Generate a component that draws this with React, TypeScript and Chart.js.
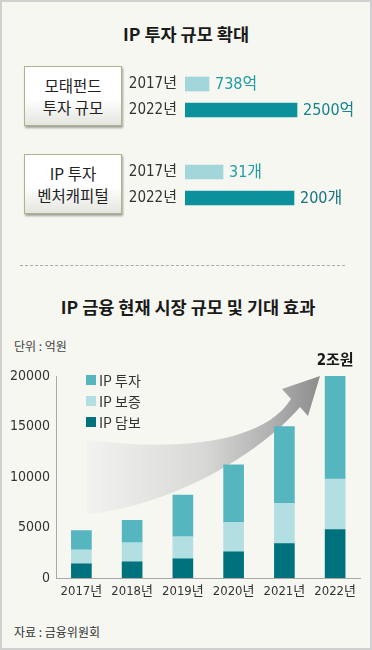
import React, { useEffect, useRef } from "react";
import { Chart, registerables } from "chart.js";
Chart.register(...registerables);

// ---- data ----
const topYears = ["2017년", "2022년"];
const fundValues = [738, 2500];
const fundUnit = "억";
const vcValues = [31, 200];
const vcUnit = "개";

const years = ["2017년", "2018년", "2019년", "2020년", "2021년", "2022년"];
const ipCollateral = [1400, 1600, 1900, 2600, 3400, 4800]; // IP 담보
const ipGuarantee = [1400, 1900, 2200, 2900, 4000, 5000]; // IP 보증
const ipInvest = [1900, 2200, 4100, 5700, 7600, 10200]; // IP 투자
const seriesNames = ["IP 담보", "IP 보증", "IP 투자"];
const yTicks = [0, 5000, 10000, 15000, 20000];
const peakLabel = "2조원";

// ---- style ----
const NARROW = "'Liberation Sans Narrow', 'DejaVu Sans Condensed', 'Liberation Sans', 'Noto Sans CJK KR', sans-serif";
const KR = "'Noto Sans CJK KR', 'Noto Sans', sans-serif";
const seriesColors = ["#00727d", "#b3dfe3", "#56b6bf"];
const topBarColors = ["#a2d6db", "#0a919c"];

function HBar(props: { values: number[]; unit: string; range: [number, number]; labelColors: string[]; top: number }) {
  const ref = useRef<HTMLCanvasElement>(null);
  useEffect(() => {
    if (!ref.current) return;
    const { values, unit, range, labelColors } = props;
    const chart = new Chart(ref.current, {
      type: "bar",
      data: {
        labels: topYears,
        datasets: [
          {
            data: values,
            backgroundColor: topBarColors,
            barThickness: 14,
            base: range[0],
          } as any,
        ],
      },
      options: {
        indexAxis: "y",
        animation: false,
        responsive: false,
        maintainAspectRatio: false,
        layout: { padding: { top: 12, bottom: 12, right: 15, left: 0 } },
        scales: {
          x: { display: false, min: range[0], max: range[1] },
          y: {
            grid: { display: false, drawTicks: true, tickLength: 8 },
            border: { display: false },
            ticks: { padding: 0, color: "#333", font: { family: NARROW, size: 15 } },
            afterFit: (s: any) => {
              s.width = 58;
            },
          },
        },
        plugins: { legend: { display: false }, tooltip: { enabled: false } },
      },
      plugins: [
        {
          id: "vals",
          afterDatasetsDraw(c: any) {
            const ctx = c.ctx;
            const meta = c.getDatasetMeta(0);
            meta.data.forEach((bar: any, i: number) => {
              ctx.save();
              ctx.font = `16px ${NARROW}`;
              ctx.fillStyle = labelColors[i];
              ctx.textBaseline = "middle";
              ctx.textAlign = "left";
              ctx.fillText(values[i] + unit, bar.x + 6, bar.y + 1);
              ctx.restore();
            });
          },
        },
      ],
    });
    return () => chart.destroy();
  }, []);
  return <canvas ref={ref} width={245} height={76} style={{ position: "absolute", left: 125, top: props.top }} />;
}

function StackChart() {
  const ref = useRef<HTMLCanvasElement>(null);
  useEffect(() => {
    if (!ref.current) return;
    const chart = new Chart(ref.current, {
      type: "bar",
      data: {
        labels: years,
        datasets: [
          { label: seriesNames[0], data: ipCollateral, backgroundColor: seriesColors[0] },
          { label: seriesNames[1], data: ipGuarantee, backgroundColor: seriesColors[1] },
          { label: seriesNames[2], data: ipInvest, backgroundColor: seriesColors[2] },
        ],
      },
      options: {
        animation: false,
        responsive: false,
        maintainAspectRatio: false,
        layout: { padding: { left: 0, right: 13.5, top: 44, bottom: 10 } },
        datasets: { bar: { barThickness: 20 } } as any,
        scales: {
          x: {
            stacked: true,
            grid: { display: false, drawTicks: false },
            border: { display: true, color: "#a8a8a8" },
            ticks: {
              padding: 6,
              color: "#333",
              font: { family: NARROW, size: 13 },
              maxRotation: 0,
              minRotation: 0,
              autoSkip: false,
            },
            afterFit: (s: any) => {
              s.height = 24;
            },
          },
          y: {
            stacked: true,
            min: 0,
            max: 20000,
            afterBuildTicks: (s: any) => {
              s.ticks = yTicks.map((v) => ({ value: v }));
            },
            grid: { display: false, drawTicks: false },
            border: { display: true, color: "#a8a8a8" },
            ticks: {
              padding: 6,
              color: "#333",
              font: { family: NARROW, size: 14 },
              callback: (v: any) => String(v),
            },
            afterFit: (s: any) => {
              s.width = 54;
            },
          },
        },
        plugins: { legend: { display: false }, tooltip: { enabled: false } },
      },
      plugins: [
        {
          id: "arrow",
          beforeDatasetsDraw(c: any) {
            const ctx = c.ctx;
            const a = c.chartArea;
            const X = (x: number) => a.left + (x - 54);
            const Y = (y: number) => a.top + (y - 374);
            ctx.save();
            const g = ctx.createLinearGradient(X(85), 0, X(318), 0);
            g.addColorStop(0, "#f2f2f0");
            g.addColorStop(0.5, "#d8d8d7");
            g.addColorStop(0.8, "#afafaf");
            g.addColorStop(1, "#8c8c8c");
            ctx.fillStyle = g;
            ctx.beginPath();
            ctx.moveTo(X(85), Y(438));
            ctx.bezierCurveTo(X(180), Y(450), X(262), Y(440), X(289), Y(397));
            ctx.lineTo(X(280), Y(387));
            ctx.lineTo(X(318), Y(374));
            ctx.lineTo(X(306), Y(414));
            ctx.lineTo(X(298), Y(405));
            ctx.bezierCurveTo(X(255), Y(455), X(165), Y(505), X(85), Y(512));
            ctx.closePath();
            ctx.fill();
            ctx.restore();
          },
          afterDatasetsDraw(c: any) {
            const ctx = c.ctx;
            const a = c.chartArea;
            ctx.save();
            const ds = c.data.datasets;
            for (let k = 0; k < ds.length; k++) {
              const d = ds[ds.length - 1 - k];
              const cy = a.top + 4 + k * 21;
              ctx.fillStyle = d.backgroundColor;
              ctx.fillRect(a.left + 30, cy - 5, 10, 10);
              ctx.fillStyle = "#333";
              ctx.font = `14px ${KR}`;
              ctx.textBaseline = "middle";
              ctx.textAlign = "left";
              ctx.fillText(d.label, a.left + 43, cy + 1);
            }
            const meta = c.getDatasetMeta(ds.length - 1);
            const last = meta.data[meta.data.length - 1];
            ctx.fillStyle = "#1a1a1a";
            ctx.font = `bold 15px ${NARROW}`;
            ctx.textAlign = "center";
            ctx.textBaseline = "middle";
            ctx.fillText(peakLabel, last.x, last.y - 15);
            ctx.restore();
          },
        },
      ],
    });
    return () => chart.destroy();
  }, []);
  return <canvas ref={ref} width={372} height={280} style={{ position: "absolute", left: 0, top: 330 }} />;
}

const boxStyle: React.CSSProperties = {
  position: "absolute",
  left: 22,
  width: 98,
  height: 60,
  boxSizing: "border-box",
  border: "1px solid #aab58c",
  boxShadow: "1px 2px 2px rgba(0,0,0,0.35)",
  background: "linear-gradient(#ffffff, #ffffff 55%, #e4e4df)",
  display: "flex",
  flexDirection: "column",
  alignItems: "center",
  justifyContent: "center",
  fontFamily: KR,
  fontSize: 15.5,
  lineHeight: "22.5px",
  color: "#222",
};

export default function App() {
  return (
    <div
      style={{
        position: "absolute",
        left: 0,
        top: 0,
        width: 372,
        height: 650,
        boxSizing: "border-box",
        border: "2px solid #d0d0d0",
        background: "#f6f7f1",
        overflow: "hidden",
        fontFamily: KR,
      }}
    >
      <div style={{ position: "absolute", left: -2, top: 20, width: 372, height: 24, lineHeight: "24px", textAlign: "center", fontWeight: 700, fontSize: 17.5, color: "#1a1a1a" }}>
        IP 투자 규모 확대
      </div>
      <div style={{ ...boxStyle, top: 64 }}>
        <div>모태펀드</div>
        <div>투자 규모</div>
      </div>
      <div style={{ ...boxStyle, top: 152 }}>
        <div>IP 투자</div>
        <div>벤처캐피털</div>
      </div>
      <HBar values={fundValues} unit={fundUnit} range={[257.5, 3701.5]} labelColors={["#1e9ba5", "#15838d"]} top={57} />
      <HBar values={vcValues} unit={vcUnit} range={[-59.45, 350]} labelColors={["#1f9ea7", "#17737d"]} top={145} />
      <div style={{ position: "absolute", left: 18, top: 263, width: 325, borderTop: "1px dashed #aaa" }} />
      <div style={{ position: "absolute", left: 0, top: 293, width: 372, height: 24, lineHeight: "24px", textAlign: "center", fontWeight: 700, fontSize: 17.5, color: "#1a1a1a" }}>
        IP 금융 현재 시장 규모 및 기대 효과
      </div>
      <div style={{ position: "absolute", left: 12, top: 334, fontSize: 12, lineHeight: "20px", color: "#444" }}>단위 : 억원</div>
      <StackChart />
      <div style={{ position: "absolute", left: 12, top: 620, fontSize: 12, lineHeight: "20px", color: "#333" }}>자료 : 금융위원회</div>
    </div>
  );
}
